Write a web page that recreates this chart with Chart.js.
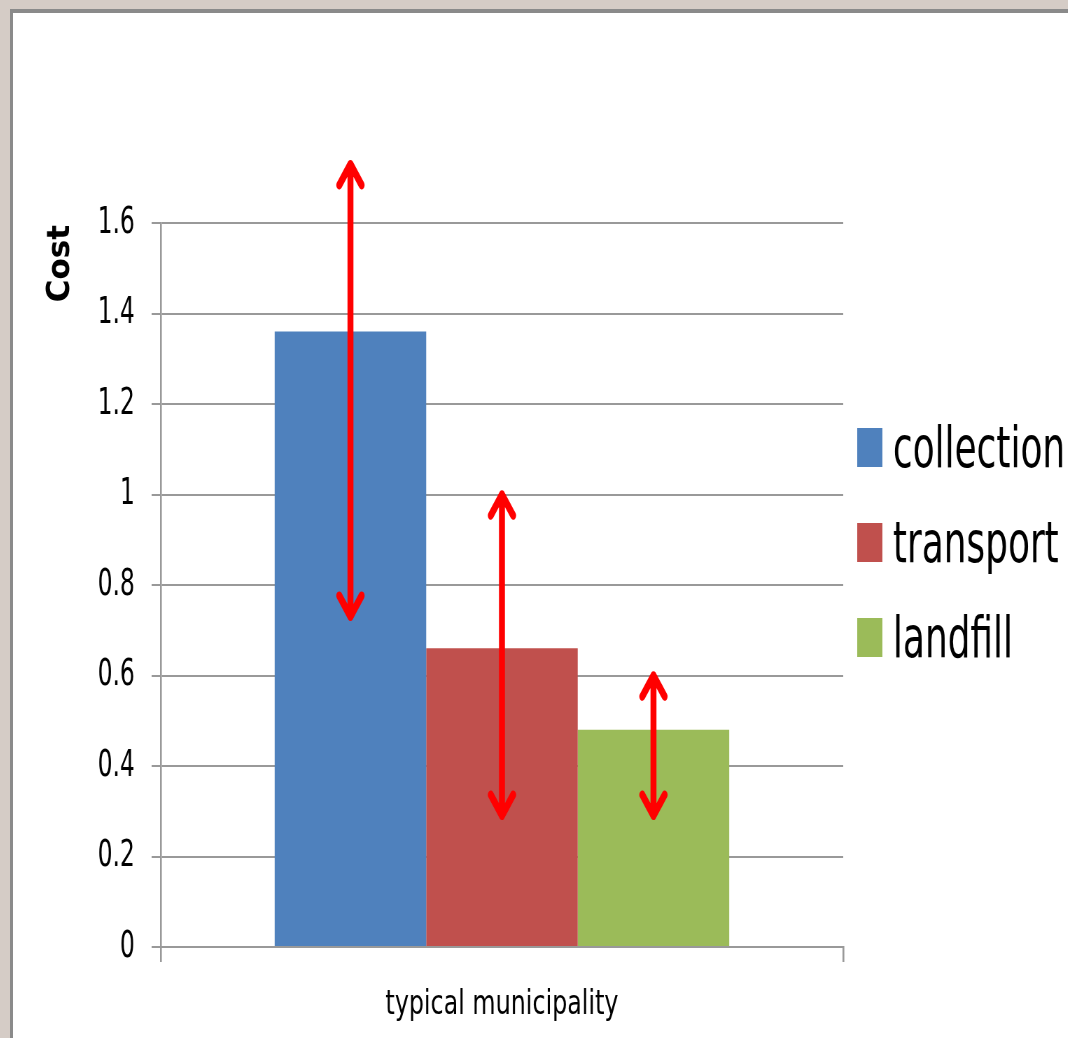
<!DOCTYPE html>
<html>
<head>
<meta charset="utf-8">
<title>Cost by stage</title>
<script src="https://cdn.jsdelivr.net/npm/chart.js@4/dist/chart.umd.min.js"></script>
<style>
  html, body { margin: 0; padding: 0; width: 1068px; height: 1038px; overflow: hidden; background: #d5ccc6; }
  .frame { position: absolute; left: 10px; top: 9px; width: 1100px; height: 1100px;
           border-left: 3px solid #8a8a8a; border-top: 4px solid #8a8a8a; background: #fff; }
  /* the drawing is laid out wide and squeezed horizontally for tall, narrow lettering */
  #chart { position: absolute; left: 13px; top: 13px; transform: scaleX(0.7); transform-origin: 0 0; }
</style>
</head>
<body>
<div class="frame"></div>
<canvas id="chart" width="1507" height="1025" style="width:1507px;height:1025px"></canvas>
<script>
// Categories and series
const categories = ['typical municipality'];
const seriesNames = ['collection', 'transport', 'landfill'];
const seriesColors = ['#4f81bd', '#c0504d', '#9bbb59'];
const collectionCost = [1.36];
const transportCost = [0.66];
const landfillCost = [0.48];

// Range of each cost (double-headed arrows): low and high ends
const rangeLow = [0.73, 0.29, 0.29];
const rangeHigh = [1.73, 1.0, 0.6];

// Y axis
const yTitle = 'Cost';
const yMin = 0, yMax = 1.6, yStep = 0.2;

const SQUEEZE = 0.7;   // horizontal scale applied to the canvas by CSS
const condensed = "'DejaVu Sans Condensed', 'DejaVu Sans', sans-serif";
const regular = "'DejaVu Sans', sans-serif";
const gridGray = '#999999';

// Double-headed red arrows drawn through the value scale
const rangeArrows = {
  id: 'rangeArrows',
  afterDatasetsDraw(chart) {
    const ctx = chart.ctx;
    const y = chart.scales.y;
    ctx.save();
    ctx.strokeStyle = '#ff0000';
    ctx.lineWidth = 8.5;
    ctx.lineCap = 'round';
    ctx.lineJoin = 'round';
    chart.data.datasets.forEach((ds, i) => {
      const bar = chart.getDatasetMeta(i).data[0];
      const x = bar.x;
      const top = y.getPixelForValue(rangeHigh[i]);
      const bot = y.getPixelForValue(rangeLow[i]);
      const hw = 16, hh = 21;
      ctx.beginPath();
      ctx.moveTo(x, top);
      ctx.lineTo(x, bot);
      ctx.moveTo(x - hw, top + hh);
      ctx.lineTo(x, top);
      ctx.lineTo(x + hw, top + hh);
      ctx.moveTo(x - hw, bot - hh);
      ctx.lineTo(x, bot);
      ctx.lineTo(x + hw, bot - hh);
      ctx.stroke();
    });
    ctx.restore();
  }
};

// Rotated bold axis title, kept at its natural proportions
const axisTitle = {
  id: 'axisTitle',
  afterDraw(chart) {
    const ctx = chart.ctx;
    const area = chart.chartArea;
    ctx.save();
    ctx.translate(68.5, area.top + 2);
    ctx.scale(1 / SQUEEZE, 1);
    ctx.rotate(-Math.PI / 2);
    ctx.fillStyle = '#000';
    ctx.font = "bold 31px " + regular;
    ctx.textAlign = 'right';
    ctx.textBaseline = 'middle';
    ctx.fillText(yTitle, 0, 0);
    ctx.restore();
  }
};

// Legend at the right of the plot: tall swatches and large labels
const sideLegend = {
  id: 'sideLegend',
  afterDraw(chart) {
    const ctx = chart.ctx;
    const area = chart.chartArea;
    const x0 = area.right + 20;
    const y0 = area.top + 205;
    const rowGap = 95, boxW = 36, boxH = 39;
    ctx.save();
    chart.data.datasets.forEach((ds, i) => {
      const by = y0 + i * rowGap;
      ctx.fillStyle = ds.backgroundColor;
      ctx.fillRect(x0, by, boxW, boxH);
      ctx.fillStyle = '#000';
      ctx.font = "57px " + condensed;
      ctx.textBaseline = 'alphabetic';
      ctx.textAlign = 'left';
      ctx.fillText(ds.label, x0 + 51, by + boxH);
    });
    ctx.restore();
  }
};

const seriesValues = [collectionCost, transportCost, landfillCost];

new Chart(document.getElementById('chart'), {
  type: 'bar',
  data: {
    labels: categories,
    datasets: seriesNames.map((name, i) => ({
      label: name,
      data: seriesValues[i],
      backgroundColor: seriesColors[i],
      borderWidth: 0,
      categoryPercentage: 0.666,
      barPercentage: 1
    }))
  },
  options: {
    responsive: false,
    devicePixelRatio: 1,
    animation: false,
    layout: { padding: { left: 0, right: 321, top: 210, bottom: 0 } },
    plugins: {
      legend: { display: false },
      tooltip: { enabled: false }
    },
    scales: {
      x: {
        type: 'category',
        offset: true,
        grid: {
          display: true, drawOnChartArea: false, drawTicks: true,
          tickLength: 15, color: gridGray, lineWidth: 2.6, offset: true
        },
        border: { display: true, color: gridGray, width: 2 },
        ticks: { color: '#000', font: { family: regular, size: 34 }, padding: 23 },
        afterFit(scale) { scale.height = 91; }
      },
      y: {
        min: yMin,
        max: yMax,
        ticks: {
          stepSize: yStep, color: '#000', font: { family: condensed, size: 37 }, padding: 24,
          callback: v => String(+v.toFixed(1))
        },
        grid: { color: gridGray, lineWidth: 2, tickLength: 13 },
        border: { display: true, color: gridGray, width: 2.6 },
        title: { display: false },
        afterFit(scale) { scale.width = 211; }
      }
    }
  },
  plugins: [rangeArrows, axisTitle, sideLegend]
});
</script>
</body>
</html>
